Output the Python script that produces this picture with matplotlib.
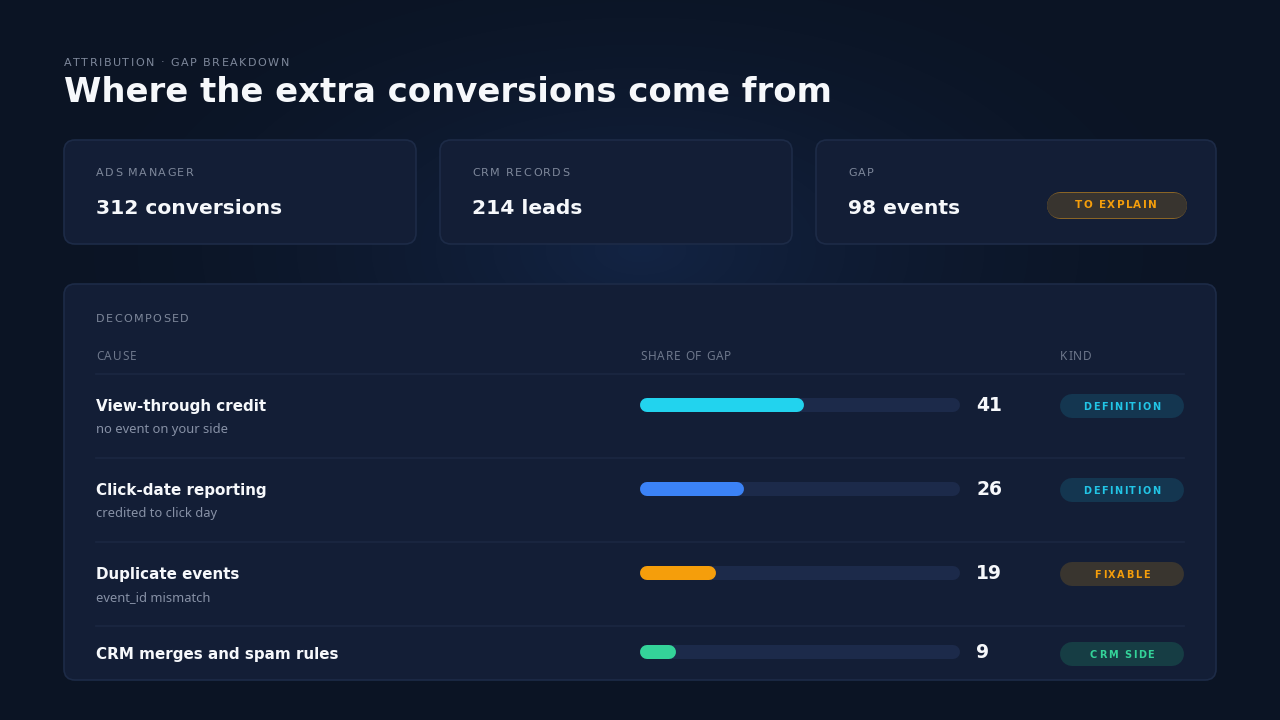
import numpy as np
import matplotlib
matplotlib.use("Agg")
import matplotlib.pyplot as plt
from matplotlib.patches import FancyBboxPatch

# ---- data ----
eyebrow = "ATTRIBUTION · GAP BREAKDOWN"
title = "Where the extra conversions come from"
card_labels = ["ADS MANAGER", "CRM RECORDS", "GAP"]
card_values = ["312 conversions", "214 leads", "98 events"]
gap_badge = "TO EXPLAIN"

causes = ["View-through credit", "Click-date reporting", "Duplicate events", "CRM merges and spam rules"]
notes = ["no event on your side", "credited to click day", "event_id mismatch", ""]
shares = [41, 26, 19, 9]
kinds = ["DEFINITION", "DEFINITION", "FIXABLE", "CRM SIDE"]
share_max = 80

bar_colors = ["#22d3ee", "#3b82f6", "#f59e0b", "#34d399"]
kind_style = {
    "DEFINITION": ("#143650", "#22c5e6"),
    "FIXABLE": ("#39352f", "#f59e0b"),
    "CRM SIDE": ("#163d44", "#34d399"),
}

W, H = 1280, 720
DPI = 100
PT = 72.0 / DPI  # points per pixel
fig = plt.figure(figsize=(W / DPI, H / DPI), dpi=DPI)
ax = fig.add_axes([0, 0, 1, 1])

# background with a soft glow
yy, xx = np.mgrid[0:H, 0:W]
d = np.sqrt(((xx - 640) / 640.0) ** 2 + ((yy - 250) / 340.0) ** 2)
glow = np.clip(1 - d, 0, 1) ** 1.8
c0 = np.array([11, 20, 36]) / 255.0
c1 = np.array([19, 36, 68]) / 255.0
img = c0[None, None, :] + (c1 - c0)[None, None, :] * glow[:, :, None]
ax.imshow(img, extent=(0, W, H, 0), zorder=0, interpolation="bilinear")
ax.set_xlim(0, W)
ax.set_ylim(H, 0)
ax.axis("off")

renderer = fig.canvas.get_renderer()


def spaced(x, y, s, spacing, ha="left", **kw):
    # draw text with letter spacing, char by char
    widths = []
    for ch in s:
        t = ax.text(0, 0, ch, **kw)
        widths.append(t.get_window_extent(renderer=renderer).width)
        t.remove()
    total = sum(widths) + spacing * (len(s) - 1)
    if ha == "center":
        x -= total / 2
    for ch, w in zip(s, widths):
        ax.text(x, y, ch, va="center", ha="left", **kw)
        x += w + spacing


def rbox(x0, y0, w, h, r, fc, ec="none", lw=1, z=1):
    p = FancyBboxPatch((x0, y0), w, h, boxstyle=f"round,pad=0,rounding_size={r}",
                       fc=fc, ec=ec, lw=lw, zorder=z)
    ax.add_patch(p)


def pill(a, x0, x1, y, h, color, z=3):
    # pill shape as a thick line with round caps (h in pixels)
    r = h / 2
    ax_to_px = (a.transData.transform((1, 0))[0] - a.transData.transform((0, 0))[0])
    ru = r / ax_to_px
    a.plot([x0 + ru, max(x1 - ru, x0 + ru)], [y, y], color=color, lw=h * PT,
           solid_capstyle="round", zorder=z)


LABEL = "#7e889b"
WHITE = "#f6f8fb"
CARD = "#131e36"
EDGE = "#1d2b47"

spaced(64, 62.5, eyebrow, 1.5, fontsize=8, color=LABEL, zorder=5)
ax.text(64, 93, title, fontsize=24.4, fontweight="bold", color=WHITE, va="center", ha="left", zorder=5)

# summary cards
card_x = [(64, 416), (440, 792), (816, 1216)]
for (x0, x1), lab, val in zip(card_x, card_labels, card_values):
    rbox(x0, 140, x1 - x0, 104, 11, CARD, EDGE, 1.2, z=2)
    spaced(x0 + 32, 172.5, lab, 1.4, fontsize=8, color=LABEL, zorder=5)
    ax.text(x0 + 32, 208.5, val, fontsize=14.6, fontweight="bold", color=WHITE, va="center", zorder=5)

pill(ax, 1046, 1186, 205, 27, "#8a6526", z=3)
pill(ax, 1046, 1186, 205, 25, "#38342f", z=4)
spaced(1116, 205.5, gap_badge, 1.3, ha="center", fontsize=7.5, fontweight="bold", color="#f59e0b", zorder=5)

# decomposition panel
rbox(64, 284, 1152, 396, 11, CARD, EDGE, 1.2, z=2)
spaced(96, 318.5, "DECOMPOSED", 1.4, fontsize=8, color=LABEL, zorder=5)
for hx, h in [(96, "CAUSE"), (640, "SHARE OF GAP"), (1060, "KIND")]:
    spaced(hx, 356, h, 0.9, fontsize=8.5, color="#6d778b", family="Noto Sans", zorder=5)

for ly in [374, 458, 542, 626]:
    ax.plot([96, 1184], [ly, ly], color="#1b2742", lw=1.2, zorder=3)

# bar axes: x in share units, y in pixels
bx0, bx1, by0, by1 = 640, 960, 374, 680
bax = fig.add_axes([bx0 / W, 1 - by1 / H, (bx1 - bx0) / W, (by1 - by0) / H])
bax.set_xlim(0, share_max)
bax.set_ylim(by1, by0)
bax.axis("off")
bax.patch.set_alpha(0)

row_y = [405, 489, 573, 652]
bar_h = 14
for i, (cause, note, v, kind) in enumerate(zip(causes, notes, shares, kinds)):
    y = row_y[i]
    if note:
        ax.text(96, y + 1.5, cause, fontsize=10.9, fontweight="bold", color=WHITE, va="center", zorder=5)
        ax.text(96, y + 24.5, note, fontsize=9.3, color="#8791a6", va="center", family="Noto Sans", zorder=5)
    else:
        ax.text(96, y + 2.5, cause, fontsize=10.9, fontweight="bold", color=WHITE, va="center", zorder=5)
    pill(bax, 0, share_max, y, bar_h, "#1c2a4a", z=2)
    pill(bax, 0, v, y, bar_h, bar_colors[i], z=3)
    ax.text(976, y + 0.5, str(v), fontsize=13.5, fontweight="bold", color=WHITE, va="center", zorder=5)
    fc, tc = kind_style[kind]
    ky = y + 1 if note else y + 2
    pill(ax, 1060, 1184, ky, 24, fc, z=3)
    spaced(1122, ky + 0.5, kind, 1.6, ha="center", fontsize=7, fontweight="bold", color=tc, zorder=5)

fig.savefig("out.png", dpi=DPI, facecolor=fig.get_facecolor())
